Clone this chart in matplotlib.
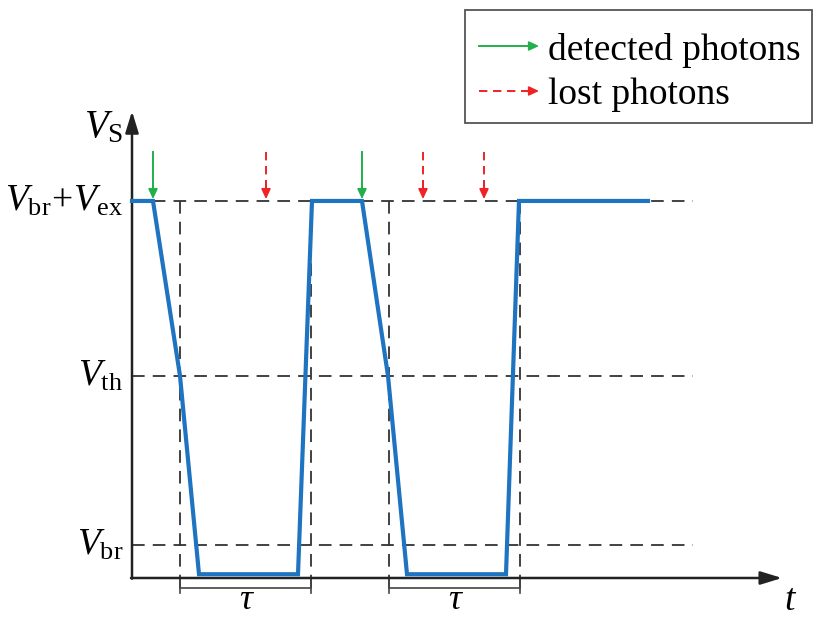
import matplotlib
matplotlib.use("Agg")
import matplotlib.pyplot as plt
from matplotlib.patches import Rectangle

plt.rcParams["font.family"] = ["Liberation Serif", "DejaVu Serif"]
plt.rcParams["mathtext.fontset"] = "custom"
plt.rcParams["mathtext.rm"] = "Liberation Serif"
plt.rcParams["mathtext.it"] = "Liberation Serif:italic"
plt.rcParams["mathtext.bf"] = "Liberation Serif:bold"

# --- data (time in ns-like units, voltage in arbitrary units) ---
wave_t = [0.0, 2.1, 4.8, 6.7, 16.6, 18.0, 23.0, 25.6, 27.5, 37.4, 38.7, 51.6]
wave_v = [10.0, 10.0, 5.36, 0.1, 0.1, 10.0, 10.0, 5.36, 0.1, 0.1, 10.0, 10.0]
level_names = [r"$V_{\mathrm{br}}\!+\!V_{\mathrm{ex}}$", r"$V_{\mathrm{th}}$", r"$V_{\mathrm{br}}$"]
level_values = [10.0, 5.36, 0.875]
detected_t = [2.1, 23.0]
lost_t = [13.4, 29.1, 35.2]
dead_start = [4.8, 25.7]
dead_time = 13.1
level_end = 56.1
t_end = 65.0
v_top = 12.25

W, H = 814, 619
fig = plt.figure(figsize=(W / 100, H / 100), dpi=100)
ax = fig.add_axes([0, 0, 1, 1])
ax.set_xlim(-13.2, 68.2)
ax.set_ylim(-1.0875, 15.33)
ax.axis("off")

dash_kw = dict(color="#333333", lw=1.3, dashes=(7, 4.5))
blue = "#1f74c1"
green = "#22b04b"
red = "#ee2326"

# horizontal reference levels
for v in level_values:
    ax.plot([0, level_end], [v, v], zorder=1, **dash_kw)

# dead-time markers
for s in dead_start:
    for x in (s, s + dead_time):
        ax.plot([x, x], [10.0, -0.37], zorder=1, **dash_kw)
    ax.plot([s, s + dead_time], [-0.27, -0.27], color="#444444", lw=1.2, zorder=2)
    for x in (s, s + dead_time):
        ax.plot([x, x], [-0.14, -0.4], color="#444444", lw=1.2, zorder=2)
    ax.text(s + dead_time / 2, -0.6, "τ", fontsize=26, style="italic",
            ha="center", va="center")

# axes with arrows
axis_arrow = dict(arrowstyle="-|>,head_length=1.3,head_width=0.4",
                  color="#222222", lw=1.8, shrinkA=0, shrinkB=0)
ax.annotate("", xy=(0, v_top + 0.13), xytext=(0, -0.02), arrowprops=axis_arrow, zorder=3)
ax.annotate("", xy=(t_end, 0), xytext=(-0.1, 0), arrowprops=axis_arrow, zorder=3)

# waveform
ax.plot(wave_t, wave_v, color=blue, lw=3.0, solid_joinstyle="miter", zorder=4)

# photon arrows
head = dict(arrowstyle="-|>,head_length=0.6,head_width=0.28", lw=1.2, shrinkA=0, shrinkB=0)


def photon(t, color, dashed):
    y0, y1 = 11.3, 10.05
    kw = dict(dashes=(4.3, 2.9)) if dashed else {}
    ax.plot([t, t], [y0, y1 + 0.3], color=color, lw=1.4, zorder=5, **kw)
    ax.annotate("", xy=(t, y1), xytext=(t, y1 + 0.45),
                arrowprops=dict(color=color, **head), zorder=5)


for t in detected_t:
    photon(t, green, False)
for t in lost_t:
    photon(t, red, True)

# level labels
for name, v in zip(level_names, level_values):
    ax.text(-0.9, v, name, fontsize=27, ha="right", va="center")
ax.text(-0.9, 11.95, r"$V_{\mathrm{S}}$", fontsize=28, ha="right", va="center")
ax.text(t_end + 0.2, -0.6, "t", fontsize=27, style="italic", ha="left", va="center")

# legend


def fx(px):
    return px / W


def fy(py):
    return 1 - py / H


fig.patches.append(Rectangle((fx(465), fy(123)), fx(812) - fx(465), fy(10) - fy(123),
                             transform=fig.transFigure, fill=False,
                             edgecolor="#555555", lw=1.3))
for py, color, dashed, label in [(46, green, False, "detected photons"),
                                 (91, red, True, "lost photons")]:
    kw = dict(dashes=(4.3, 2.9)) if dashed else {}
    fig.add_artist(plt.Line2D([fx(479), fx(532)], [fy(py), fy(py)], color=color,
                              lw=1.4, transform=fig.transFigure, **kw))
    ax.annotate("", xy=(fx(539), fy(py)), xytext=(fx(528), fy(py)),
                xycoords="figure fraction", textcoords="figure fraction",
                arrowprops=dict(color=color, **head))
    fig.text(fx(548), fy(py), label, fontsize=27, ha="left", va="center_baseline")

fig.savefig("out.png", dpi=100)
